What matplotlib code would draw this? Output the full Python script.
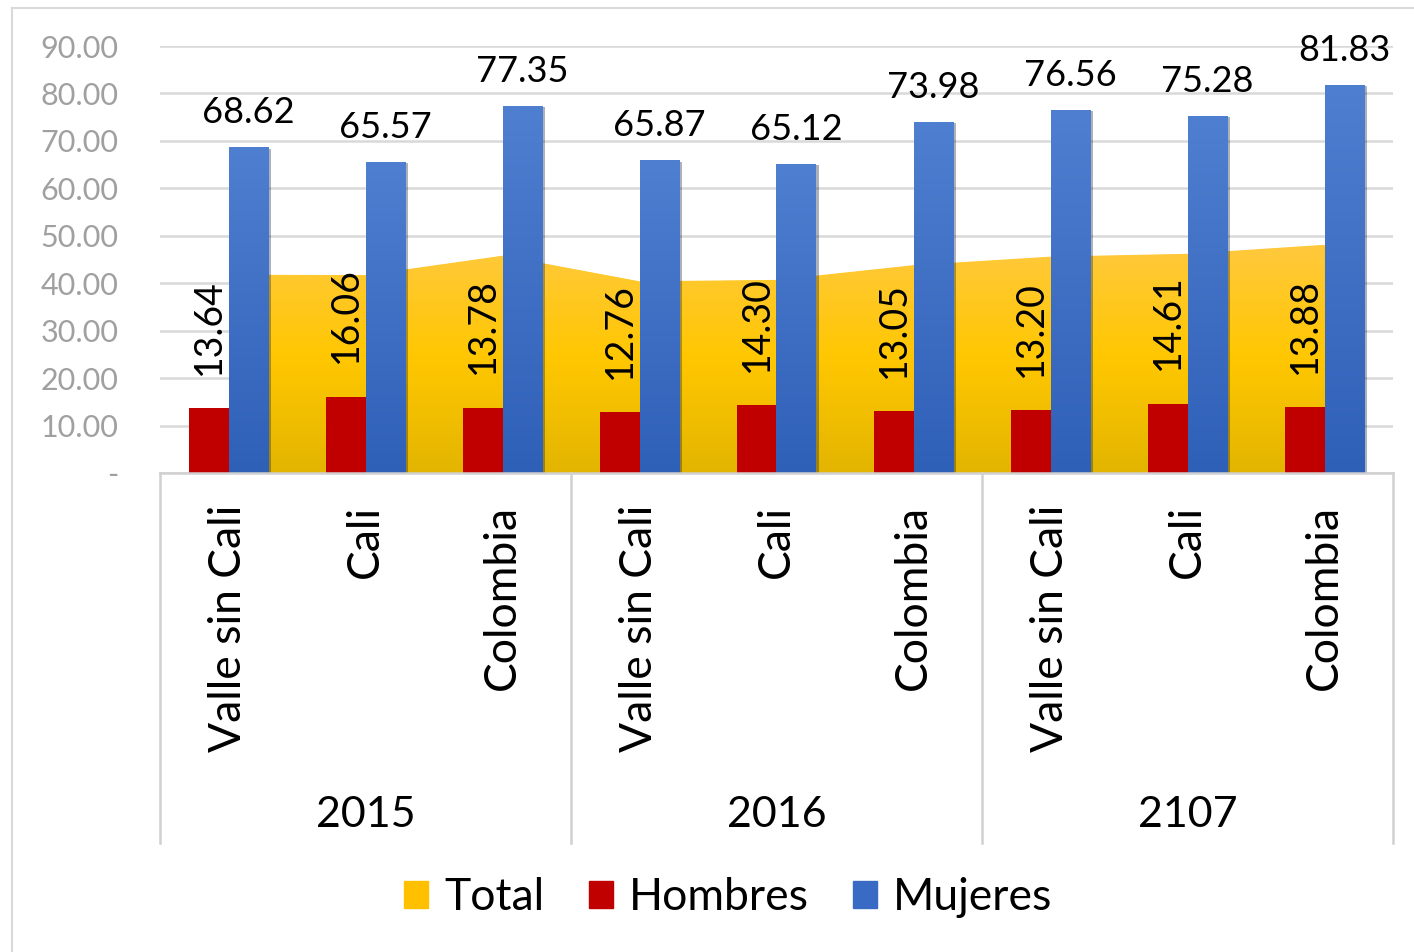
import numpy as np
import matplotlib
matplotlib.use("Agg")
import matplotlib.pyplot as plt
from matplotlib.colors import LinearSegmentedColormap
from matplotlib.patches import Patch
from matplotlib.lines import Line2D
import matplotlib.patheffects as pe

plt.rcParams['font.family'] = ['Lato', 'DejaVu Sans']

# data
years = ['2015', '2016', '2107']
places = ['Valle sin Cali', 'Cali', 'Colombia']
total = [41.8, 41.7, 45.8, 40.4, 40.7, 43.8, 45.6, 46.2, 48.1]
hombres = [13.64, 16.06, 13.78, 12.76, 14.30, 13.05, 13.20, 14.61, 13.88]
mujeres = [68.62, 65.57, 77.35, 65.87, 65.12, 73.98, 76.56, 75.28, 81.83]
yticks = [0, 10, 20, 30, 40, 50, 60, 70, 80, 90]

n = len(total)
x = np.arange(n)
w = 0.29

blue_cm = LinearSegmentedColormap.from_list('b', ['#2F60B8', '#4F7FD0'])
yel_cm = LinearSegmentedColormap.from_list('y', ['#E3B500', '#FFC700', '#FFC93E'])
grad = np.linspace(0, 1, 256).reshape(-1, 1)

fig = plt.figure(figsize=(14.14, 9.52), dpi=100)
ax = fig.add_axes([160 / 1414, 1 - 473 / 952, (1393 - 160) / 1414, 427 / 952])
ax.set_xlim(-0.5, n - 0.5)
ax.set_ylim(0, 90)

# Total area with vertical gradient
area = ax.fill_between(x, 0, total, color='#FFC000', lw=0, zorder=1)
im = ax.imshow(grad, extent=[0, n - 1, 0, max(total)], origin='lower', aspect='auto',
               cmap=yel_cm, zorder=1)
im.set_clip_path(area.get_paths()[0], ax.transData)

shadow = [pe.SimplePatchShadow(offset=(2, -1), alpha=0.35), pe.Normal()]

hb = ax.bar(x - w / 2, hombres, w, color='#C00000', zorder=3)
for b in hb:
    b.set_path_effects(shadow)
mb = ax.bar(x + w / 2, mujeres, w, color='#3A6BC4', zorder=3)
for b in mb:
    b.set_path_effects(shadow)
    x0, y0 = b.get_x(), b.get_height()
    bi = ax.imshow(grad, extent=[x0, x0 + b.get_width(), 0, y0], origin='lower',
                   aspect='auto', cmap=blue_cm, zorder=3.5)
    bi.set_clip_path(b)

ax.set_xlim(-0.5, n - 0.5)
ax.set_ylim(0, 90)

# value labels
for xi, v in zip(x, hombres):
    ax.annotate(f'{v:.2f}', (xi - w / 2, v), xytext=(0, 24), textcoords='offset points',
                rotation=90, ha='center', va='bottom', fontsize=27, zorder=5)
for xi, v in zip(x, mujeres):
    ax.annotate(f'{v:.2f}', (xi + w / 2, v), xytext=(0, 13), textcoords='offset points',
                ha='center', va='bottom', fontsize=26, zorder=5, annotation_clip=False)

# y axis
ax.set_yticks(yticks)
ax.set_yticklabels(['-' if t == 0 else f'{t:.2f}' for t in yticks], color='#A0A0A0', fontsize=22)
ax.tick_params(axis='y', length=0, pad=30)
ax.tick_params(axis='x', length=0, labelbottom=False)
ax.grid(axis='y', color='#D9D9D9', lw=1.8, zorder=0)
ax.set_axisbelow(True)
for s in ['top', 'right', 'left']:
    ax.spines[s].set_visible(False)
ax.spines['bottom'].set_color('#D0D0D0')
ax.spines['bottom'].set_linewidth(1.8)
ax.spines['bottom'].set_zorder(6)

# multi-level category axis
tr = ax.get_xaxis_transform()
for i in range(n):
    ax.text(x[i], -0.075, places[i % 3], transform=tr, rotation=90, ha='center', va='top',
            fontsize=32)
for g, yr in enumerate(years):
    ax.text(3 * g + 1, -0.8, yr, transform=tr, ha='center', va='center', fontsize=31)
for g in range(len(years) + 1):
    ax.add_line(Line2D([3 * g - 0.5] * 2, [0, -0.867], transform=tr, color='#D0D0D0',
                       lw=1.8, clip_on=False))

# legend
handles = [Patch(color='#FFC000', label='Total'),
           Patch(color='#C00000', label='Hombres'),
           Patch(color='#3A6BC4', label='Mujeres')]
fig.legend(handles=handles, loc='center', bbox_to_anchor=(0.515, 1 - 898 / 952), ncol=3,
           frameon=False, fontsize=32, handlelength=0.55, handleheight=0.55,
           handletextpad=0.35, columnspacing=1.0)

# outer chart frame
fig.add_artist(Line2D([12 / 1414, 12 / 1414], [0, 1 - 8 / 952], transform=fig.transFigure,
                      color='#D9D9D9', lw=1.5))
fig.add_artist(Line2D([12 / 1414, 1], [1 - 8 / 952, 1 - 8 / 952], transform=fig.transFigure,
                      color='#D9D9D9', lw=1.5))

fig.savefig('out.png', dpi=100)
